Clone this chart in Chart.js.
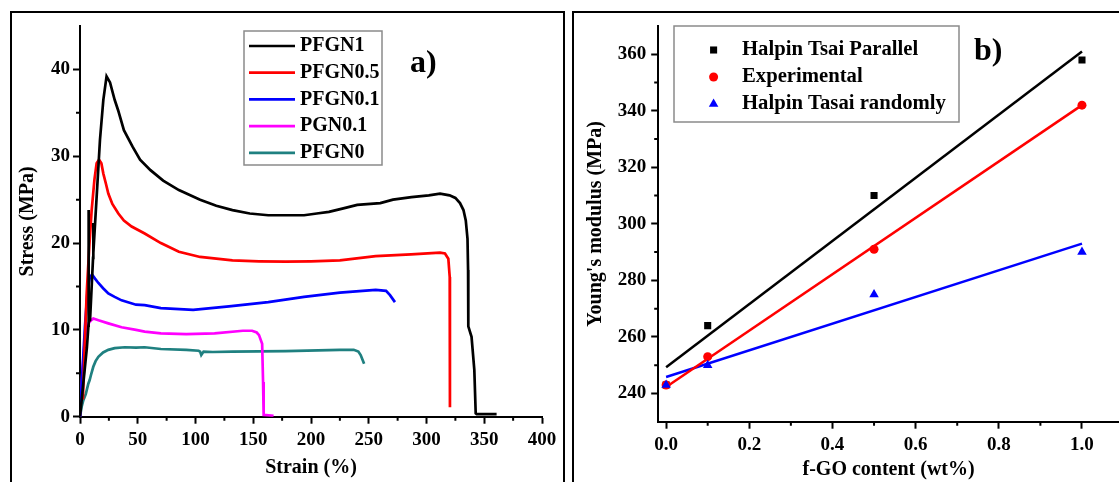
<!DOCTYPE html>
<html>
<head>
<meta charset="utf-8">
<script src="https://cdn.jsdelivr.net/npm/chart.js@4.4.0/dist/chart.umd.min.js"></script>
<style>
html, body { margin: 0; padding: 0; background: #fff; overflow: hidden; }
body { width: 1119px; height: 482px; position: relative; }
.frame { position: absolute; border: 2px solid #000; border-bottom: none; }
#frameA { left: 10px; top: 11px; width: 551px; height: 480px; }
#frameB { left: 572px; top: 11px; width: 560px; height: 480px; border-right: none; }
.panel { position: absolute; top: 0; height: 482px; }
#panelA { left: 0; width: 560px; }
#panelB { left: 560px; width: 559px; }
</style>
</head>
<body>
<div class="frame" id="frameA"></div>
<div class="frame" id="frameB"></div>
<div class="panel" id="panelA"><canvas id="stress_chart"></canvas></div>
<div class="panel" id="panelB"><canvas id="modulus_chart"></canvas></div>
<script>
// panel a) stress-strain curves
const pfgn1Strain = [0, 3, 6, 7.3, 7.4, 7.6, 8.7, 11.3, 11.5, 11.6, 14, 17.3, 20.2, 23, 26, 30, 33, 38, 45.5, 52, 61, 72, 85.6, 104, 118, 132, 147, 163, 180, 194, 205, 215.5, 228, 240, 260, 271, 287, 302, 311.7, 320, 325, 329, 332, 334, 335.5, 336, 336.2, 339, 341.4, 342.6, 343.5, 360.7];
const pfgn1Stress = [0, 4, 8, 10.5, 23.8, 11, 11.1, 18.3, 22.3, 18.9, 24.4, 31.9, 36.5, 39.2, 38.5, 36.5, 35.3, 33, 31.1, 29.6, 28.4, 27.2, 26.1, 25, 24.3, 23.8, 23.4, 23.2, 23.2, 23.2, 23.4, 23.6, 24.0, 24.4, 24.6, 25, 25.3, 25.5, 25.7, 25.5, 25.2, 24.6, 23.8, 22.6, 20.5, 16.9, 10.4, 9.2, 5.4, 0.4, 0.3, 0.3];

const pfgn05Strain = [2.5, 4, 5.8, 8, 10.1, 12.5, 14.4, 16.5, 18.5, 20.2, 22.5, 24.5, 28, 33.2, 38, 44.7, 56, 70, 85.6, 104, 132, 155, 178, 200, 225, 256, 286.6, 311.7, 316, 318.9, 320.1, 320.3];
const pfgn05Stress = [2.0, 8, 14.2, 19.5, 23.8, 27.3, 29.2, 29.6, 29.2, 28.0, 26.8, 25.7, 24.5, 23.4, 22.6, 21.9, 21.1, 20.0, 19.0, 18.4, 18.0, 17.9, 17.85, 17.9, 18.0, 18.5, 18.7, 18.9, 18.8, 18.2, 16.1, 1.1];

const pfgn01Strain = [0, 2, 4.3, 6.5, 8.7, 10.8, 13, 15.9, 20, 24.5, 30, 36, 48.5, 56, 70, 98, 129, 163, 194, 225, 256, 265, 268.4, 272.7];
const pfgn01Stress = [0, 5, 10.4, 14.5, 16.2, 16.3, 15.9, 15.4, 14.8, 14.2, 13.8, 13.4, 12.9, 12.85, 12.5, 12.3, 12.7, 13.2, 13.8, 14.3, 14.6, 14.5, 14.0, 13.2];

const pgn01Strain = [0, 2, 4.3, 7, 9.5, 11.5, 16, 24.5, 36, 48.5, 56, 70, 92, 116.5, 141, 149, 153, 155, 157.7, 158.5, 159, 167.6];
const pgn01Stress = [0, 5, 9.2, 10.7, 11.1, 11.3, 11.1, 10.75, 10.3, 10.0, 9.8, 9.6, 9.5, 9.6, 9.9, 9.9, 9.7, 9.4, 8.4, 4, 0.2, 0.1];

const pfgn0Strain = [0, 1.5, 2.9, 5, 7.2, 8.3, 9.5, 11.5, 13.5, 15.9, 20, 24.5, 30, 38.8, 48.5, 56, 70, 92, 102.7, 104, 105, 107, 115, 132, 178, 225, 237, 241, 243, 246];
const pfgn0Stress = [0, 1.2, 1.9, 2.6, 3.8, 4.2, 4.8, 5.75, 6.4, 6.9, 7.4, 7.7, 7.9, 8.0, 7.95, 8.0, 7.8, 7.7, 7.6, 7.5, 7.1, 7.5, 7.45, 7.5, 7.55, 7.7, 7.7, 7.5, 7.1, 6.1];

const strainTicks = [0, 50, 100, 150, 200, 250, 300, 350, 400];
const strainMinor = [25, 75, 125, 175, 225, 275, 325, 375];
const stressTicks = [0, 10, 20, 30, 40];
const stressMinor = [5, 15, 25, 35];

// panel b) Young's modulus
const fgoContent = [0, 0.1, 0.5, 1.0];
const parallelModulus = [243, 264, 310, 358];
const experimentalModulus = [243, 253, 291, 342];
const randomModulus = [243, 250, 275, 290];

const fitContent = [0, 1.0];
const parallelFit = [249.3, 361];
const experimentalFit = [242.3, 342];
const randomFit = [245.8, 293];

const contentTicks = [0, 0.2, 0.4, 0.6, 0.8, 1.0];
const contentMinor = [0.1, 0.3, 0.5, 0.7, 0.9];
const modulusTicks = [240, 260, 280, 300, 320, 340, 360];
const modulusMinor = [250, 270, 290, 310, 330, 350];

const FONT = 'Liberation Serif';

function toPoints(xs, ys)
{
      return xs.map((x, i) => ({ x: x, y: ys[i] }));
}

const minorTicks = {
      id: 'minorTicks',
      afterDraw(chart, args, o)
      {
            const ctx = chart.ctx;
            const xs = chart.scales.x;
            const ys = chart.scales.y;
            ctx.save();
            ctx.strokeStyle = '#000';
            ctx.lineWidth = 2;
            ctx.beginPath();
            o.x.forEach(v =>
            {
                  const p = xs.getPixelForValue(v);
                  ctx.moveTo(p, xs.top);
                  ctx.lineTo(p, xs.top + o.length);
            });
            o.y.forEach(v =>
            {
                  const p = ys.getPixelForValue(v);
                  ctx.moveTo(ys.right, p);
                  ctx.lineTo(ys.right - o.length, p);
            });
            ctx.stroke();
            ctx.restore();
      }
};

function drawMarker(ctx, style, r, x, y)
{
      ctx.beginPath();
      if (style === 'rect')
      {
            const s = r * Math.SQRT1_2;
            ctx.rect(x - s, y - s, 2 * s, 2 * s);
      }
      else if (style === 'triangle')
      {
            ctx.moveTo(x, y - r);
            ctx.lineTo(x + r * 0.866, y + r * 0.5);
            ctx.lineTo(x - r * 0.866, y + r * 0.5);
            ctx.closePath();
      }
      else
      {
            ctx.arc(x, y, r, 0, Math.PI * 2);
      }
      ctx.fill();
}

const boxLegend = {
      id: 'boxLegend',
      afterDraw(chart, args, o)
      {
            const ctx = chart.ctx;
            ctx.save();
            ctx.strokeStyle = '#8a8a8a';
            ctx.lineWidth = 1.5;
            ctx.strokeRect(o.box[0], o.box[1], o.box[2], o.box[3]);
            ctx.font = 'bold ' + o.fontSize + 'px "' + FONT + '"';
            ctx.textBaseline = 'middle';
            ctx.textAlign = 'left';
            let row = 0;
            chart.data.datasets.forEach(ds =>
            {
                  if (ds.inLegend === false) return;
                  const y = o.rowY + row * o.rowGap;
                  if (o.sample === 'line')
                  {
                        ctx.strokeStyle = ds.borderColor;
                        ctx.lineWidth = ds.borderWidth;
                        ctx.beginPath();
                        ctx.moveTo(o.sampleX[0], y);
                        ctx.lineTo(o.sampleX[1], y);
                        ctx.stroke();
                  }
                  else
                  {
                        ctx.fillStyle = ds.backgroundColor;
                        drawMarker(ctx, ds.pointStyle, ds.pointRadius, o.sampleX[0], y);
                  }
                  ctx.fillStyle = '#000';
                  ctx.fillText(ds.label, o.textX, y);
                  row++;
            });
            ctx.font = 'bold ' + o.letterSize + 'px "' + FONT + '"';
            ctx.fillText(o.letter, o.letterX, o.letterY);
            ctx.restore();
      }
};

function axis(min, max, major, fixed, fitSize, horizontal, title, titlePad, tickPad)
{
      return {
            type: 'linear',
            min: min,
            max: max,
            afterBuildTicks: s => { s.ticks = major.map(v => ({ value: v })); },
            afterFit: s =>
            {
                  if (horizontal)
                  {
                        s.height = fitSize;
                        s.paddingLeft = 0;
                        s.paddingRight = 0;
                  }
                  else s.width = fitSize;
            },
            border: { display: true, color: '#000', width: 2 },
            grid: { drawOnChartArea: false, drawTicks: true, tickLength: 7, tickColor: '#000', tickWidth: 2 },
            ticks: {
                  color: '#000',
                  padding: tickPad,
                  maxRotation: 0,
                  autoSkip: false,
                  font: { family: FONT, weight: 'bold', size: 19 },
                  callback: v => fixed ? v.toFixed(1) : String(v)
            },
            title: {
                  display: true,
                  text: title,
                  color: '#000',
                  font: { family: FONT, weight: 'bold', size: 20 },
                  padding: titlePad
            }
      };
}

function line(label, xs, ys, color)
{
      return {
            label: label,
            data: toPoints(xs, ys),
            showLine: true,
            borderColor: color,
            backgroundColor: color,
            borderWidth: 2.7,
            pointRadius: 0,
            tension: 0
      };
}

const stressChart = new Chart(document.getElementById('stress_chart'), {
      type: 'scatter',
      data: {
            datasets: [
                  line('PFGN1', pfgn1Strain, pfgn1Stress, '#000000'),
                  line('PFGN0.5', pfgn05Strain, pfgn05Stress, '#ff0000'),
                  line('PFGN0.1', pfgn01Strain, pfgn01Stress, '#0000ff'),
                  line('PGN0.1', pgn01Strain, pgn01Stress, '#ff00ff'),
                  line('PFGN0', pfgn0Strain, pfgn0Stress, '#1f8080')
            ]
      },
      options: {
            responsive: true,
            maintainAspectRatio: false,
            animation: false,
            layout: { autoPadding: false, padding: { left: 0, right: 18, top: 26, bottom: 0 } },
            scales: {
                  x: axis(0, 400, strainTicks, false, 65.3, true, 'Strain (%)', { top: 0, bottom: 2 }, 5),
                  y: axis(0, 45, stressTicks, false, 80, false, 'Stress (MPa)', { top: 16, bottom: 0 }, 3)
            },
            plugins: {
                  legend: { display: false },
                  tooltip: { enabled: false },
                  minorTicks: { x: strainMinor, y: stressMinor, length: 4 },
                  boxLegend: {
                        box: [244, 31, 138, 134],
                        sample: 'line',
                        sampleX: [249, 295],
                        textX: 300,
                        rowY: 46,
                        rowGap: 26.7,
                        fontSize: 20,
                        letter: 'a)',
                        letterX: 410,
                        letterY: 64,
                        letterSize: 32
                  }
            }
      },
      plugins: [minorTicks, boxLegend]
});

function markers(label, ys, color, style, r, order)
{
      return {
            label: label,
            data: toPoints(fgoContent, ys),
            showLine: false,
            backgroundColor: color,
            borderColor: color,
            borderWidth: 0,
            pointStyle: style,
            pointRadius: r,
            order: order
      };
}

function fitLine(ys, color)
{
      return {
            data: toPoints(fitContent, ys),
            showLine: true,
            borderColor: color,
            borderWidth: 2.5,
            pointRadius: 0,
            inLegend: false,
            order: 4
      };
}

const modulusChart = new Chart(document.getElementById('modulus_chart'), {
      type: 'scatter',
      data: {
            datasets: [
                  markers('Halpin Tsai Parallel', parallelModulus, '#000000', 'rect', 5, 3),
                  markers('Experimental', experimentalModulus, '#ff0000', 'circle', 4.5, 2),
                  markers('Halpin Tasai randomly', randomModulus, '#0000ff', 'triangle', 5.5, 1),
                  fitLine(parallelFit, '#000000'),
                  fitLine(experimentalFit, '#ff0000'),
                  fitLine(randomFit, '#0000ff')
            ]
      },
      options: {
            responsive: true,
            maintainAspectRatio: false,
            animation: false,
            layout: { autoPadding: false, padding: { left: 0, right: 0, top: 26, bottom: 0 } },
            scales: {
                  x: axis(-0.019, 1.089, contentTicks, true, 60.3, true, 'f-GO content (wt%)', { top: 0, bottom: 0 }, 5),
                  y: axis(230, 370, modulusTicks, false, 98.2, false, "Young's modulus (MPa)", { top: 24, bottom: 0 }, 5)
            },
            plugins: {
                  legend: { display: false },
                  tooltip: { enabled: false },
                  minorTicks: { x: contentMinor, y: modulusMinor, length: 4 },
                  boxLegend: {
                        box: [114, 26, 285, 96],
                        sample: 'marker',
                        sampleX: [153.6],
                        textX: 182,
                        rowY: 50,
                        rowGap: 27,
                        fontSize: 20.7,
                        letter: 'b)',
                        letterX: 414,
                        letterY: 52,
                        letterSize: 32
                  }
            }
      },
      plugins: [minorTicks, boxLegend]
});
</script>
</body>
</html>
